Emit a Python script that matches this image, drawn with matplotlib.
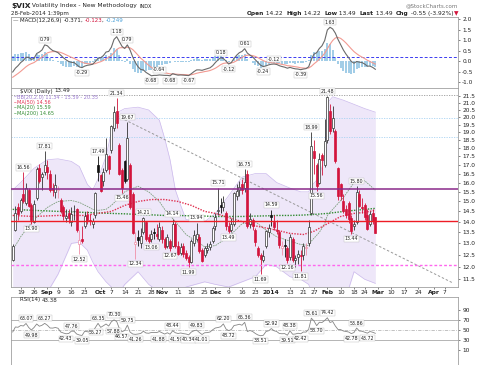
import matplotlib
matplotlib.use("Agg")
import matplotlib.pyplot as plt
import numpy as np
import pandas as pd
from matplotlib.ticker import FixedLocator, NullLocator, FormatStrFormatter

W, H = 480, 365

# ---- calendar ----
FIRST_DAY, LAST_DAY, AXIS_END = "2013-08-14", "2014-02-28", "2014-04-15"
HOLIDAYS = ["2013-09-02", "2013-11-28", "2013-12-25", "2014-01-01",
            "2014-01-20", "2014-02-17"]

# ---- daily candles (Aug 14 2013 .. Feb 28 2014) ----
opens = [
    12.30, 13.60, 14.70, 14.50, 15.40, 14.90, 15.60, 14.80, 14.00, 15.20,
    16.80, 16.30, 16.60, 16.90, 16.50, 15.70, 15.50, 15.60, 15.10, 14.70,
    14.20, 14.40, 14.00, 14.50, 14.60, 12.95, 13.20, 13.80, 14.30, 14.10,
    13.90, 14.30, 17.00, 16.40, 16.10, 16.70, 17.50, 17.90, 19.30, 20.40,
    18.20, 16.70, 17.20, 16.20, 17.00, 15.40, 12.95, 13.30, 13.00, 13.50,
    14.00, 13.30, 13.20, 13.50, 13.40, 13.20, 13.60, 13.20, 12.90, 13.10,
    12.90, 13.90, 12.90, 12.60, 12.90, 12.60, 12.40, 12.20, 13.00, 13.20,
    13.30, 12.70, 12.50, 12.70, 12.85, 13.10, 13.80, 14.50, 14.80, 14.70,
    14.40, 13.80, 13.60, 13.90, 15.30, 15.60, 15.90, 15.70, 16.50, 13.90,
    14.10, 13.60, 12.80, 12.50, 12.30, 12.90, 13.50, 14.30, 14.00, 13.60,
    13.50, 12.80, 12.90, 12.80, 12.40, 13.20, 12.30, 12.40, 12.50, 12.50,
    12.80, 13.00, 14.40, 17.80, 17.00, 16.00, 17.60, 17.00, 18.50, 20.40,
    19.30, 19.10, 16.80, 15.90, 15.00, 14.60, 14.90, 14.20, 13.80, 14.00,
    15.40, 14.70, 14.80, 14.30, 13.90, 14.40, 14.22]
highs = [
    12.95, 14.75, 14.90, 15.20, 16.56, 15.95, 15.70, 14.90, 15.05, 16.90,
    17.05, 16.60, 17.81, 17.30, 16.70, 16.00, 16.50, 15.80, 15.20, 14.80,
    14.60, 14.60, 14.70, 14.80, 14.65, 13.60, 13.80, 14.45, 14.50, 14.35,
    14.20, 15.50, 17.49, 16.50, 16.80, 18.60, 17.60, 19.50, 20.80, 21.34,
    18.30, 16.80, 17.30, 19.67, 17.10, 15.50, 13.50, 13.60, 13.70, 14.21,
    14.05, 13.40, 13.60, 13.70, 13.90, 14.00, 13.80, 13.30, 13.40, 13.20,
    14.14, 14.00, 13.10, 13.00, 13.00, 12.70, 12.50, 13.20, 13.60, 13.94,
    13.40, 12.80, 12.90, 13.00, 13.10, 13.80, 14.40, 15.71, 15.20, 15.30,
    14.50, 14.00, 14.20, 15.50, 15.90, 16.10, 16.20, 16.75, 16.70, 14.40,
    14.20, 13.70, 12.90, 12.60, 12.70, 13.60, 13.90, 14.59, 14.30, 14.10,
    13.60, 13.10, 13.20, 12.90, 13.40, 13.30, 12.50, 12.70, 12.70, 13.00,
    13.00, 14.10, 18.99, 18.50, 17.10, 17.70, 17.70, 19.90, 21.48, 20.90,
    20.80, 19.20, 16.90, 16.00, 15.40, 14.80, 15.00, 14.30, 14.10, 15.80,
    15.60, 15.20, 14.90, 14.60, 14.50, 14.60, 14.22]
lows = [
    12.22, 13.55, 14.10, 14.40, 14.90, 14.80, 14.70, 13.90, 13.95, 15.10,
    16.00, 15.60, 16.40, 16.20, 15.50, 15.30, 15.20, 15.20, 14.40, 14.10,
    14.00, 13.95, 13.80, 14.10, 13.50, 12.52, 13.00, 13.70, 13.90, 13.85,
    13.70, 14.20, 16.10, 15.50, 15.80, 16.60, 16.50, 17.70, 19.10, 19.30,
    16.40, 15.46, 16.00, 16.10, 14.60, 13.40, 12.34, 12.90, 12.80, 13.40,
    13.10, 13.00, 13.06, 13.20, 13.20, 13.10, 13.00, 12.75, 12.80, 12.67,
    12.85, 12.80, 12.50, 12.50, 12.40, 12.30, 11.99, 12.15, 12.90, 13.10,
    12.60, 12.20, 12.40, 12.60, 12.70, 13.00, 13.60, 14.30, 14.40, 14.50,
    13.60, 13.49, 13.50, 13.80, 15.10, 15.30, 15.40, 15.50, 13.70, 13.70,
    13.60, 12.90, 12.40, 11.69, 12.20, 12.80, 13.30, 13.80, 13.60, 13.40,
    12.80, 12.50, 12.40, 12.16, 12.30, 12.20, 12.00, 12.10, 11.81, 12.30,
    12.50, 12.90, 14.30, 16.50, 15.56, 15.90, 16.40, 16.90, 18.30, 18.90,
    19.00, 17.10, 15.10, 15.10, 14.40, 14.20, 13.95, 13.44, 13.60, 13.90,
    14.70, 14.40, 14.10, 13.60, 13.80, 13.90, 13.49]
closes = [
    12.90, 14.40, 14.37, 15.10, 15.00, 15.70, 14.76, 14.10, 14.85, 16.77,
    16.10, 16.45, 17.01, 16.61, 15.61, 15.58, 15.85, 15.63, 14.53, 14.28,
    14.29, 14.16, 14.38, 14.53, 13.59, 13.16, 13.12, 14.25, 14.08, 14.01,
    14.05, 15.46, 16.60, 15.54, 16.60, 17.67, 16.74, 19.41, 20.34, 19.60,
    16.48, 15.72, 16.07, 18.66, 14.71, 13.48, 13.04, 13.16, 13.33, 14.20,
    13.20, 13.09, 13.41, 13.45, 13.33, 13.75, 13.19, 12.85, 13.27, 12.80,
    13.91, 12.90, 12.53, 12.82, 12.52, 12.37, 12.19, 13.10, 13.39, 13.40,
    12.66, 12.26, 12.79, 12.81, 12.98, 13.70, 14.23, 14.55, 14.70, 14.99,
    13.79, 13.55, 13.89, 15.42, 15.54, 15.76, 15.58, 16.03, 13.79, 14.15,
    13.79, 13.04, 12.48, 12.33, 12.46, 13.56, 13.72, 14.23, 13.76, 13.55,
    12.92, 12.87, 12.89, 12.28, 13.28, 12.28, 12.35, 12.53, 12.44, 12.87,
    12.84, 13.77, 18.14, 17.42, 15.80, 17.35, 17.29, 18.41, 21.44, 19.11,
    19.95, 17.23, 15.29, 15.26, 14.51, 14.30, 14.14, 13.57, 13.87, 15.50,
    14.79, 14.68, 14.23, 13.67, 14.35, 14.04, 13.49]

# ---- MACD(12,26,9) ----
macd = [
    -0.50, -0.32, -0.20, -0.05, 0.05, 0.20, 0.20, 0.10, 0.15, 0.38,
    0.45, 0.55, 0.79, 0.75, 0.62, 0.52, 0.48, 0.42, 0.30, 0.18,
    0.08, 0.00, -0.04, -0.05, -0.15, -0.26, -0.29, -0.22, -0.18, -0.16,
    -0.13, 0.00, 0.15, 0.18, 0.28, 0.45, 0.48, 0.68, 1.05, 1.18,
    0.95, 0.72, 0.62, 0.79, 0.55, 0.22, -0.05, -0.25, -0.38, -0.40,
    -0.52, -0.60, -0.68, -0.66, -0.66, -0.64, -0.65, -0.66, -0.66, -0.68,
    -0.58, -0.62, -0.65, -0.64, -0.65, -0.66, -0.67, -0.58, -0.48, -0.40,
    -0.40, -0.42, -0.38, -0.34, -0.30, -0.20, -0.05, 0.08, 0.18, 0.14,
    0.02, -0.12, -0.05, 0.15, 0.30, 0.42, 0.48, 0.61, 0.40, 0.30,
    0.22, 0.08, -0.05, -0.18, -0.24, -0.21, -0.16, -0.13, -0.12, -0.14,
    -0.20, -0.24, -0.27, -0.32, -0.28, -0.32, -0.35, -0.36, -0.39, -0.36,
    -0.34, -0.25, 0.10, 0.35, 0.42, 0.62, 0.75, 1.00, 1.50, 1.63,
    1.55, 1.35, 1.05, 0.80, 0.55, 0.35, 0.18, 0.00, -0.08, 0.00,
    -0.03, -0.05, -0.12, -0.22, -0.22, -0.28, -0.371]
signal = [
    -0.75, -0.66, -0.57, -0.47, -0.36, -0.25, -0.16, -0.10, -0.05, 0.04,
    0.12, 0.21, 0.32, 0.41, 0.45, 0.47, 0.47, 0.46, 0.43, 0.38,
    0.32, 0.26, 0.20, 0.15, 0.09, 0.02, -0.04, -0.08, -0.10, -0.11,
    -0.12, -0.10, -0.05, -0.01, 0.05, 0.13, 0.20, 0.29, 0.42, 0.57,
    0.65, 0.66, 0.65, 0.68, 0.65, 0.57, 0.44, 0.30, 0.16, 0.05,
    -0.07, -0.18, -0.28, -0.36, -0.42, -0.46, -0.50, -0.54, -0.56, -0.59,
    -0.59, -0.60, -0.61, -0.62, -0.62, -0.63, -0.64, -0.63, -0.60, -0.56,
    -0.53, -0.51, -0.48, -0.46, -0.43, -0.38, -0.32, -0.24, -0.15, -0.09,
    -0.07, -0.08, -0.07, -0.03, 0.04, 0.12, 0.19, 0.27, 0.30, 0.30,
    0.28, 0.24, 0.18, 0.11, 0.04, -0.01, -0.04, -0.06, -0.07, -0.09,
    -0.11, -0.14, -0.16, -0.20, -0.21, -0.23, -0.25, -0.27, -0.30, -0.31,
    -0.32, -0.31, -0.23, -0.11, -0.01, 0.11, 0.24, 0.39, 0.61, 0.82,
    1.00, 1.12, 1.15, 1.10, 1.00, 0.88, 0.74, 0.60, 0.47, 0.37,
    0.28, 0.21, 0.14, 0.06, 0.00, -0.06, -0.123]

# ---- RSI(14) ----
rsi = [
    46.0, 56.0, 55.5, 59.0, 58.0, 63.07, 55.0, 49.98, 55.0, 62.0,
    57.5, 59.5, 63.27, 59.5, 54.0, 53.8, 55.0, 53.5, 46.0, 44.0,
    42.43, 43.0, 47.76, 47.5, 42.0, 40.0, 39.05, 47.5, 46.5, 46.0,
    46.5, 55.0, 63.35, 55.27, 58.5, 62.0, 57.88, 66.5, 70.30, 67.0,
    53.0, 46.57, 49.0, 59.75, 46.0, 42.0, 41.26, 42.0, 43.0, 47.5,
    44.0, 43.5, 45.0, 45.2, 44.8, 47.0, 44.5, 41.88, 44.5, 41.59,
    48.44, 44.5, 43.0, 44.0, 42.8, 42.0, 40.34, 46.0, 48.5, 49.83,
    45.0, 41.01, 44.5, 44.8, 46.0, 50.5, 54.0, 55.0, 56.5, 62.20,
    52.0, 48.72, 51.0, 59.0, 60.0, 61.5, 59.5, 65.36, 47.0, 49.0,
    47.0, 43.0, 40.0, 38.51, 39.5, 47.0, 48.5, 52.92, 48.5, 47.0,
    43.0, 42.5, 42.8, 39.51, 48.38, 41.5, 42.0, 43.5, 42.42, 46.0,
    45.8, 51.5, 73.61, 68.0, 58.70, 65.5, 65.0, 69.0, 74.42, 65.0,
    67.0, 58.0, 51.0, 50.8, 48.0, 47.0, 46.0, 42.78, 45.0, 53.86,
    48.0, 47.5, 45.5, 43.72, 47.0, 45.5, 43.38]

# ---- overlays (Bollinger 20,2 and moving averages) ----
bb_dates = [
    "2013-08-14", "2013-08-19", "2013-08-26", "2013-09-03", "2013-09-09",
    "2013-09-16", "2013-09-19", "2013-09-24", "2013-09-26", "2013-09-30",
    "2013-10-03", "2013-10-07", "2013-10-10", "2013-10-14", "2013-10-21",
    "2013-10-25", "2013-10-31", "2013-11-04", "2013-11-06", "2013-11-08",
    "2013-11-12", "2013-11-14", "2013-11-25", "2013-12-02", "2013-12-09",
    "2013-12-16", "2013-12-23", "2013-12-30", "2014-01-06", "2014-01-13",
    "2014-01-17", "2014-01-23", "2014-01-24", "2014-01-29", "2014-01-31",
    "2014-02-03", "2014-02-05", "2014-02-11", "2014-02-18", "2014-02-24",
    "2014-02-28"]
bb_upper = [
    15.6, 16.0, 16.8, 17.3, 17.35, 17.2, 16.9, 15.9, 15.6, 16.2,
    17.5, 19.0, 20.4, 20.6, 20.7, 20.5, 19.8, 18.6, 17.3, 15.6,
    14.8, 14.1, 14.0, 14.4, 15.3, 16.3, 16.5, 16.5, 16.0, 15.7,
    15.5, 15.5, 15.8, 16.3, 17.5, 21.0, 21.45, 21.2, 20.9, 20.6,
    20.35]
bb_mid = [
    12.7, 13.3, 14.1, 14.7, 15.0, 15.05, 14.95, 14.75, 14.6, 14.55,
    14.6, 14.8, 15.2, 15.5, 15.8, 15.5, 15.0, 14.6, 14.3, 14.0,
    13.7, 13.4, 12.85, 12.9, 13.3, 13.9, 14.0, 13.6, 13.3, 13.1,
    12.95, 12.9, 13.1, 13.5, 13.9, 14.3, 14.6, 15.2, 16.0, 16.1,
    15.59]
bb_lower = [
    10.5, 10.6, 10.8, 11.0, 11.7, 13.0, 13.05, 12.7, 12.2, 11.8,
    11.4, 11.2, 11.0, 11.3, 11.8, 11.3, 11.0, 10.9, 10.9, 11.0,
    11.1, 11.2, 11.4, 11.3, 11.2, 11.4, 11.6, 12.1, 12.0, 11.6,
    11.5, 11.3, 11.0, 10.4, 10.1, 10.0, 10.0, 10.5, 11.8, 11.5,
    11.34]
ma_dates = [
    "2013-08-14", "2013-08-26", "2013-09-09", "2013-09-23", "2013-10-07",
    "2013-10-14", "2013-10-21", "2013-10-28", "2013-11-04", "2013-11-11",
    "2013-11-18", "2013-11-25", "2013-12-02", "2013-12-09", "2013-12-16",
    "2013-12-23", "2013-12-30", "2014-01-06", "2014-01-13", "2014-01-21",
    "2014-01-27", "2014-02-03", "2014-02-10", "2014-02-18", "2014-02-24",
    "2014-02-28"]
ma50 = [
    14.3, 14.25, 14.3, 14.3, 14.5, 14.8, 15.0, 15.1, 15.1, 15.0,
    14.8, 14.5, 14.4, 14.2, 14.0, 13.8, 13.7, 13.6, 13.45, 13.4,
    13.55, 13.9, 14.25, 14.4, 14.45, 14.56]
ma200 = [
    14.6, 14.55, 14.5, 14.45, 14.4, 14.38, 14.35, 14.33, 14.3, 14.3,
    14.28, 14.27, 14.25, 14.25, 14.25, 14.27, 14.28, 14.3, 14.3, 14.32,
    14.35, 14.4, 14.48, 14.55, 14.6, 14.65]

# ---- drawn levels / trendline ----
top_level = 21.55
blue_levels = [19.95, 18.68]
purple_level = 15.67
red_level = 14.02
pink_level = 12.07
trend = [("2013-10-09", 20.1), ("2014-04-10", 11.36)]
macd_level = 0.2
macd_last = (-0.371, -0.123, -0.249)

# ---- swing labels ----
price_hi = ["2013-08-20", "2013-08-30", "2013-09-30", "2013-10-09", "2013-10-15",
            "2013-10-23", "2013-11-07", "2013-11-20", "2013-12-03", "2013-12-17",
            "2014-01-02", "2014-01-24", "2014-02-03", "2014-02-19"]
price_lo = ["2013-08-23", "2013-09-19", "2013-10-11", "2013-10-18", "2013-10-28",
            "2013-11-06", "2013-11-15", "2013-12-09", "2013-12-26", "2014-01-10",
            "2014-01-17", "2014-01-28", "2014-02-14"]
macd_hi = ["2013-08-30", "2013-10-09", "2013-10-15", "2013-10-31", "2013-12-04",
           "2013-12-17", "2014-01-03", "2014-02-04"]
macd_lo = ["2013-09-20", "2013-10-28", "2013-11-06", "2013-11-15", "2013-12-09",
           "2013-12-27", "2014-01-17"]
rsi_hi = ["2013-08-21", "2013-08-30", "2013-09-16", "2013-09-30", "2013-10-08",
          "2013-10-15", "2013-11-07", "2013-11-20", "2013-12-05", "2013-12-17",
          "2014-01-02", "2014-01-13", "2014-01-24", "2014-02-03", "2014-02-19"]
rsi_lo = ["2013-08-23", "2013-09-12", "2013-09-20", "2013-10-01", "2013-10-04",
          "2013-10-11", "2013-10-18", "2013-11-04", "2013-11-06", "2013-11-15",
          "2013-11-22", "2013-12-09", "2013-12-26", "2014-01-10", "2014-01-17",
          "2014-01-28", "2014-02-14", "2014-02-25"]

ticks = [("2013-08-19", "19"), ("2013-08-26", "26"), ("2013-09-03", "Sep"),
         ("2013-09-09", "9"), ("2013-09-16", "16"), ("2013-09-23", "23"),
         ("2013-10-01", "Oct"), ("2013-10-07", "7"), ("2013-10-14", "14"),
         ("2013-10-21", "21"), ("2013-10-28", "28"), ("2013-11-01", "Nov"),
         ("2013-11-11", "11"), ("2013-11-18", "18"), ("2013-11-25", "25"),
         ("2013-12-02", "Dec"), ("2013-12-09", "9"), ("2013-12-16", "16"),
         ("2013-12-23", "23"), ("2014-01-02", "2014"), ("2014-01-13", "13"),
         ("2014-01-21", "21"), ("2014-01-27", "27"), ("2014-02-03", "Feb"),
         ("2014-02-10", "10"), ("2014-02-18", "18"), ("2014-02-24", "24"),
         ("2014-03-03", "Mar"), ("2014-03-10", "10"), ("2014-03-17", "17"),
         ("2014-03-24", "24"), ("2014-04-01", "Apr"), ("2014-04-07", "7")]

RED = "#d3143c"
PINK = "#f090a8"
INK = "#222222"
FRAME = "#a0a0a0"
BB_FILL = "#eee7f9"
BB_EDGE = "#cbb9ec"
HIST = "#a2cde7"

# labels that sit close together get a small sideways nudge (points)
NUDGE = {"2013-10-01": -3.5, "2013-10-04": 3.5,
         "2013-11-04": -4.5, "2013-11-06": 4.5}

cal = pd.bdate_range(FIRST_DAY, AXIS_END)
cal = cal[~cal.isin(pd.to_datetime(HOLIDAYS))]
pos = {d: i for i, d in enumerate(cal)}


def X(d):
    return pos[pd.Timestamp(d)]


n = len(closes)
assert cal[n - 1] == pd.Timestamp(LAST_DAY)
x = np.arange(n)
o, h, l, c = (np.array(a) for a in (opens, highs, lows, closes))
m, s, r = np.array(macd), np.array(signal), np.array(rsi)

fig = plt.figure(figsize=(W / 100, H / 100), dpi=100)
L, R = 11, 458


def box(top, bottom):
    return [L / W, 1 - bottom / H, (R - L) / W, (bottom - top) / H]


ax_m = fig.add_axes(box(17, 88))
ax_p = fig.add_axes(box(88, 287))
ax_r = fig.add_axes(box(297, 365))

for ax in (ax_m, ax_p, ax_r):
    for sp in ax.spines.values():
        sp.set_color(FRAME)
        sp.set_linewidth(0.6)
    ax.set_xlim(-0.64, 167.0)
    ax.yaxis.tick_right()
    ax.tick_params(axis="y", labelsize=4.2, length=1.5, width=0.4, pad=1.5,
                   colors=INK)
    ax.tick_params(axis="x", length=0, labelbottom=False)


def tag(ax, d, series, above, dx=0.0):
    xi = X(d)
    yv = series[xi]
    ax.annotate(f"{yv:.2f}", (xi, yv), xytext=(dx, 1.8 if above else -1.8),
                textcoords="offset points", ha="center",
                va="bottom" if above else "top", fontsize=3.4, color=INK,
                bbox=dict(boxstyle="square,pad=0.12", fc="white",
                          ec="#bbbbbb", lw=0.3), zorder=9)


# ---- MACD panel ----
ax_m.bar(x, m - s, width=0.7, color=HIST, linewidth=0, zorder=1)
ax_m.axhline(macd_level, color="#3b3bf0", ls=(0, (3, 2)), lw=0.7, zorder=2)
ax_m.plot(x, s, color="#f29a92", lw=0.8, zorder=3)
ax_m.plot(x, m, color="#6a6a6a", lw=0.8, zorder=4)
for d in macd_hi:
    tag(ax_m, d, m, True)
for d in macd_lo:
    tag(ax_m, d, m, False)
ax_m.set_ylim(-1.262, 2.119)
ax_m.yaxis.set_major_locator(FixedLocator(np.arange(-1.0, 2.01, 0.5)))
ax_m.yaxis.set_major_formatter(FormatStrFormatter("%.1f"))

# ---- price panel ----
ax_p.set_yscale("log")
bx = [X(d) for d in bb_dates]
ax_p.fill_between(bx, bb_lower, bb_upper, color=BB_FILL, lw=0, zorder=0)
ax_p.plot(bx, bb_upper, color=BB_EDGE, lw=0.5, zorder=1)
ax_p.plot(bx, bb_lower, color=BB_EDGE, lw=0.5, zorder=1)
ax_p.plot(bx, bb_mid, color="#7d9f7d", lw=0.6, ls=(0, (2, 1)), zorder=2)
mx = [X(d) for d in ma_dates]
ax_p.plot(mx, ma200, color="#2f8a2f", lw=1.0, ls=(0, (1, 1)), zorder=2)
ax_p.plot(mx, ma50, color="#e0304f", lw=1.0, ls=(0, (1, 1)), zorder=2)

ax_p.axhline(top_level, color="#999999", lw=0.6, ls=(0, (1.5, 1.5)), zorder=1)
for lv in blue_levels:
    ax_p.axhline(lv, color="#a8d2f2", lw=0.6, ls=(0, (1.5, 1.5)), zorder=1)
(t0, v0), (t1, v1) = trend
ax_p.plot([X(t0), X(t1)], [v0, v1], color="#9a9a9a", lw=0.7,
          ls=(0, (2.5, 2)), zorder=2)

prev = np.r_[o[0], c[:-1]]
up = c >= o
gain = c >= prev
edge = np.where(gain, np.where(up, "#333333", "#111111"),
                np.where(up, PINK, RED))
face = np.where(up, "white", edge)
ax_p.vlines(x, l, h, colors=list(edge), lw=0.6, zorder=3)
ax_p.bar(x, np.maximum(np.abs(c - o), 0.03), bottom=np.minimum(o, c),
         width=0.7, color=list(face), edgecolor=list(edge), linewidth=0.5,
         zorder=4)

ax_p.axhline(purple_level, color="#8a2a8a", lw=1.1, zorder=5)
ax_p.axhline(red_level, color="#ee1c25", lw=1.0, zorder=5)
ax_p.axhline(pink_level, color="#ff66ee", lw=1.0, ls=(0, (2, 1.5)), zorder=5)

for d in price_hi:
    tag(ax_p, d, h, True)
for d in price_lo:
    tag(ax_p, d, l, False)

ax_p.set_ylim(11.20, 22.10)
ax_p.yaxis.set_major_locator(FixedLocator(np.arange(11.5, 21.51, 0.5)))
ax_p.yaxis.set_major_formatter(FormatStrFormatter("%.1f"))
ax_p.yaxis.set_minor_locator(NullLocator())
ax_p.set_xticks([X(d) for d, _ in ticks])
ax_p.set_xticklabels([t for _, t in ticks])
ax_p.tick_params(axis="x", length=1.5, width=0.4, labelsize=4.3, pad=0.8,
                 labelbottom=True, colors=INK)
for lbl in ax_p.get_xticklabels():
    if not lbl.get_text().isdigit() or lbl.get_text() == "2014":
        lbl.set_fontweight("bold")

# ---- RSI panel ----
ax_r.axhline(70, color="#a8a8a8", lw=0.6)
ax_r.axhline(30, color="#a8a8a8", lw=0.6)
ax_r.axhline(50, color="#b8b8b8", lw=0.6, ls=(0, (4, 1.5, 1, 1.5)))
ax_r.plot(x, r, color="#858585", lw=0.6)
for d in rsi_hi:
    tag(ax_r, d, r, True)
for d in rsi_lo:
    tag(ax_r, d, r, False, NUDGE.get(d, 0.0))
ax_r.set_ylim(-20, 116)
ax_r.yaxis.set_major_locator(FixedLocator([10, 30, 50, 70, 90]))

# ---- header and legends (pixel coords) ----
top = fig.add_axes([0, 0, 1, 1])
top.set_xlim(0, W)
top.set_ylim(H, 0)
top.axis("off")


def chain(x0, y0, parts, align="left", size=4.2):
    seq = parts if align == "left" else parts[::-1]
    prev_t = None
    for p in seq:
        kw = dict(color=p[1], fontsize=p[3] if len(p) > 3 else size,
                  fontweight=p[2] if len(p) > 2 else "normal",
                  va="center", ha=align)
        if prev_t is None:
            prev_t = top.text(x0, y0, p[0], **kw)
        else:
            prev_t = top.annotate(p[0], xy=(1, 0.5) if align == "left" else (0, 0.5),
                                  xycoords=prev_t, **kw)


chain(11, 6, [("$VIX", INK, "bold", 5.4),
              (" Volatility Index - New Methodology ", INK, "normal", 4.3),
              ("INDX", INK, "normal", 3.6)])
top.text(11, 13.5, pd.Timestamp(LAST_DAY).strftime("%d-%b-%Y") + " 1:39pm",
         fontsize=4.0, va="center", color=INK)
top.text(458, 6, "@StockCharts.com", ha="right", va="center", fontsize=4.0,
         color="#777777")
chg = c[-1] - c[-2]
chain(458, 13.5, [("Open", INK, "bold"), (f" {o[-1]:.2f}  ", INK),
                  ("High", INK, "bold"), (f" {h[-1]:.2f}  ", INK),
                  ("Low", INK, "bold"), (f" {l[-1]:.2f}  ", INK),
                  ("Last", INK, "bold"), (f" {c[-1]:.2f}  ", INK),
                  ("Chg", INK, "bold"),
                  (f" {chg:.2f} ({chg / c[-2] * 100:.2f}%)", INK),
                  ("\u25bc", RED)], align="right")

chain(13, 20.5, [("\u2014 ", "#555555"), ("MACD(12,26,9) ", INK),
                 (f"{macd_last[0]:.3f}", INK), (", ", INK),
                 (f"{macd_last[1]:.3f}", RED), (", ", INK),
                 (f"{macd_last[2]:.3f}", "#4aa0d8")], size=4.0)
chain(20, 91, [("$VIX (Daily) ", INK), (f"{c[-1]:.2f}", INK)], size=4.0)
chain(13, 97, [("\u00b7\u00b7", "#9b7ad0", "bold"),
               (f"BB(20,2.0) {bb_lower[-1]:.2f} - {bb_mid[-1]:.2f} - {bb_upper[-1]:.2f}",
                "#9b7ad0")], size=3.6)
chain(13, 102.5, [("\u00b7\u00b7", "#e0304f", "bold"),
                  (f"MA(50) {ma50[-1]:.2f}", "#e0304f")], size=3.6)
chain(13, 108, [("\u00b7\u00b7", "#2f8a2f", "bold"),
                (f"MA(20) {bb_mid[-1]:.2f}", "#2f8a2f")], size=3.6)
chain(13, 113.5, [("\u00b7\u00b7", "#2f8a2f", "bold"),
                  (f"MA(200) {ma200[-1]:.2f}", "#2f8a2f")], size=3.6)
chain(20, 300, [("RSI(14) ", INK), (f"{r[-1]:.2f}", INK)], size=4.0)

fig.savefig("out.png", dpi=100)
